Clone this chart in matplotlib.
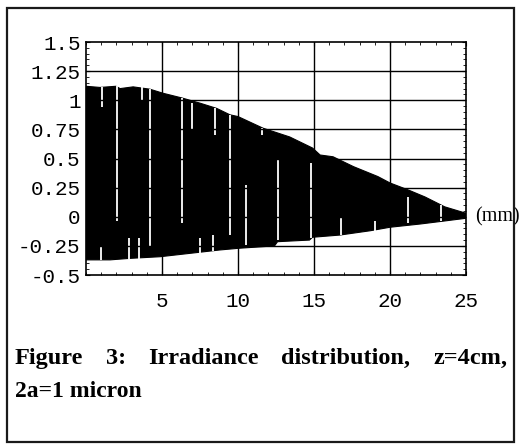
import numpy as np
import matplotlib
matplotlib.use('Agg')
import matplotlib.pyplot as plt
from matplotlib.patches import Rectangle
from matplotlib.ticker import MultipleLocator

# envelope of the oscillating irradiance
upper_x = [0, 0.92, 1.97, 2.24, 3.1, 4.2, 5.07, 6.3, 7.5, 8.6, 9.47, 10.0, 11.65,
           13.4, 14.9, 15.4, 16.25, 17.6, 19.2, 20.0, 21.2, 22.3, 23.6, 25.0]
upper_y = [1.12, 1.11, 1.12, 1.10, 1.115, 1.095, 1.06, 1.02, 0.975, 0.93, 0.875, 0.86, 0.76,
           0.685, 0.59, 0.53, 0.515, 0.43, 0.345, 0.29, 0.23, 0.17, 0.085, 0.03]
lower_x = [0, 1.58, 2.9, 4.87, 6.84, 8.8, 10.1, 12.4, 12.6, 14.7, 14.9, 16.7, 18.7,
           20.0, 22.0, 23.6, 25.0]
lower_y = [-0.37, -0.37, -0.357, -0.343, -0.314, -0.285, -0.27, -0.25, -0.214, -0.2, -0.176,
           -0.157, -0.12, -0.09, -0.062, -0.036, -0.013]

# white gaps between the oscillations (x, bottom, top)
gap_x = [2.03, 4.21, 6.33, 9.47, 10.55, 12.65, 14.83, 21.15, 23.35,
         1.03, 3.66, 7.0, 8.5, 11.6,
         0.97, 2.85, 3.51, 7.5, 8.36, 16.8, 19.0]
gap_lo = [-0.04, -0.25, -0.05, -0.16, -0.24, -0.2, -0.185, -0.05, -0.04,
          0.94, 1.0, 0.75, 0.70, 0.70,
          -0.37, -0.36, -0.36, -0.31, -0.29, -0.16, -0.12]
gap_hi = [1.12, 1.10, 1.02, 0.875, 0.27, 0.49, 0.46, 0.17, 0.10,
          1.11, 1.12, 0.98, 0.93, 0.76,
          -0.26, -0.18, -0.18, -0.18, -0.16, 0.0, -0.04]

x_ticks = [5, 10, 15, 20, 25]
y_ticks = [-0.5, -0.25, 0, 0.25, 0.5, 0.75, 1, 1.25, 1.5]
y_labels = ['-0.5', '-0.25', '0', '0.25', '0.5', '0.75', '1', '1.25', '1.5']
caption_1 = 'Figure 3: Irradiance distribution, z=4cm,'
caption_2 = '2a=1 micron'

mono = 'Liberation Mono'
serif = 'Liberation Serif'

fig = plt.figure(figsize=(5.22, 4.44), dpi=100)
ax = fig.add_axes([0.1648, 0.3806, 0.728, 0.5248])

poly_x = np.concatenate([upper_x, lower_x[::-1]])
poly_y = np.concatenate([upper_y, lower_y[::-1]])
ax.fill(poly_x, poly_y, color='black', lw=0.8, zorder=2)
ax.vlines(gap_x, gap_lo, gap_hi, color='white', lw=1.3, zorder=3)

ax.set_xlim(0, 25)
ax.set_ylim(-0.5, 1.5)
ax.set_xticks(x_ticks)
ax.set_xticklabels([str(t) for t in x_ticks], family=mono, fontsize=15)
ax.set_yticks(y_ticks)
ax.set_yticklabels(y_labels, family=mono, fontsize=15)
ax.xaxis.set_minor_locator(MultipleLocator(1))
ax.yaxis.set_minor_locator(MultipleLocator(0.05))
ax.tick_params(which='both', direction='in', top=True, right=True, color='black')
ax.tick_params(which='major', length=3, width=0.8)
ax.tick_params(which='minor', length=2, width=0.6)
ax.tick_params(axis='x', which='major', pad=12)
ax.tick_params(axis='y', which='major', pad=4)
for v in x_ticks[:-1]:
    ax.axvline(v, color='black', lw=1.0, zorder=4)
for v in y_ticks[1:-1]:
    ax.axhline(v, color='black', lw=1.0, zorder=4)
for s in ax.spines.values():
    s.set_linewidth(1.2)
    s.set_zorder(5)

ax.text(25.6, 0, '(mm)', family=serif, fontsize=14.5, va='center', ha='left', clip_on=False)

# caption, justified across the box like the printed page
renderer = fig.canvas.get_renderer()
x0, x1 = 15 / 522, 507 / 522
words = caption_1.split()
texts = [fig.text(0, 0.181, w, family=serif, weight='bold', fontsize=17.5) for w in words]
widths = [t.get_window_extent(renderer).width / fig.bbox.width for t in texts]
space = (x1 - x0 - sum(widths)) / (len(words) - 1)
pos = x0
for t, w in zip(texts, widths):
    t.set_x(pos)
    pos += w + space
fig.text(x0, 0.1065, caption_2, family=serif, weight='bold', fontsize=17)

fig.patches.append(Rectangle((0.0134, 0.004), 0.9713, 0.978, transform=fig.transFigure,
                             fill=False, lw=1.6, edgecolor='#1a1a1a', zorder=10))

fig.savefig('out.png', dpi=100)
